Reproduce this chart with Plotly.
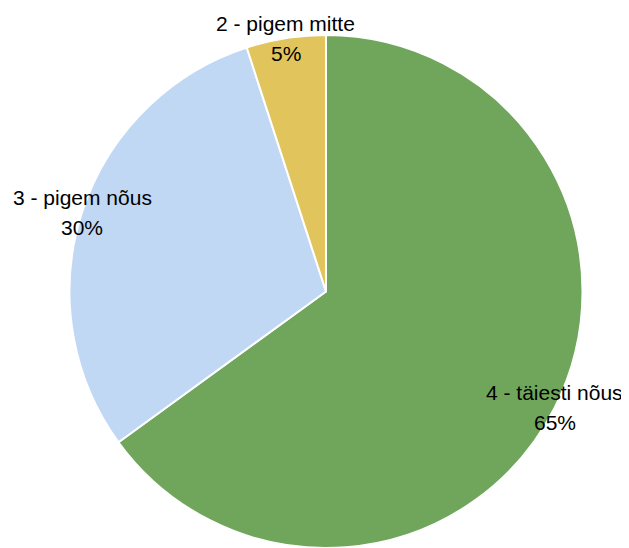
import math
import plotly.graph_objects as go

labels = ["4 - täiesti nõus", "3 - pigem nõus", "2 - pigem mitte"]
values = [65, 30, 5]
colors = ["#6FA65B", "#C0D8F4", "#E1C45B"]

W, H = 629, 548
ml, mr, mt, mb = 61, 54, 27, 8
pw, ph = W - ml - mr, H - mt - mb

fig = go.Figure(go.Pie(
    labels=labels, values=values, sort=False, direction="clockwise", rotation=0,
    marker=dict(colors=colors, line=dict(color="white", width=2)),
    textinfo="none", hoverinfo="label+percent", showlegend=False,
))

total = sum(values)
cum = 0
annotations = []
rpx = min(pw, ph) / 2
font = dict(family="Liberation Sans, Arial, sans-serif", size=21, color="black")
for lab, v in zip(labels, values):
    mid = (cum + v / 2) / total * 2 * math.pi
    cum += v
    x = 0.5 + rpx * math.sin(mid) / pw
    y = 0.5 + rpx * math.cos(mid) / ph
    annotations.append(dict(
        x=x, y=y, xref="paper", yref="paper", showarrow=False,
        text=lab, font=font, xanchor="center", yanchor="middle", yshift=15,
    ))
    annotations.append(dict(
        x=x, y=y, xref="paper", yref="paper", showarrow=False,
        text=f"{round(v / total * 100)}%", font=font,
        xanchor="center", yanchor="middle", yshift=-15,
    ))

fig.update_layout(
    width=W, height=H, margin=dict(l=ml, r=mr, t=mt, b=mb),
    paper_bgcolor="white", plot_bgcolor="white",
    annotations=annotations,
)
fig.write_html("out.html")
